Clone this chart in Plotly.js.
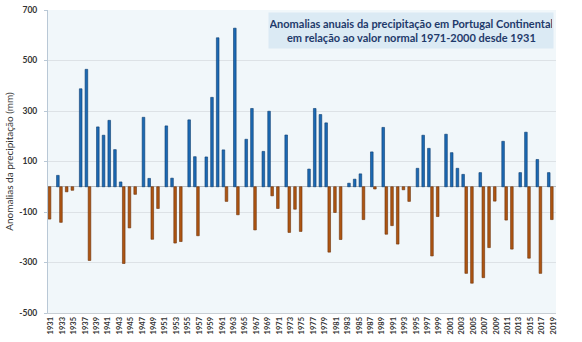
<!DOCTYPE html>
<html>
<head>
<meta charset="utf-8">
<script src="https://cdn.plot.ly/plotly-3.0.1.min.js"></script>
<style>
  html, body { margin: 0; padding: 0; background: #ffffff; }
  #chart { width: 582px; height: 342px; }
</style>
</head>
<body>
<div id="chart"></div>
<script>
// Categories (years)
const years = [
  1931,1932,1933,1934,1935,1936,1937,1938,1939,1940,
  1941,1942,1943,1944,1945,1946,1947,1948,1949,1950,
  1951,1952,1953,1954,1955,1956,1957,1958,1959,1960,
  1961,1962,1963,1964,1965,1966,1967,1968,1969,1970,
  1971,1972,1973,1974,1975,1976,1977,1978,1979,1980,
  1981,1982,1983,1984,1985,1986,1987,1988,1989,1990,
  1991,1992,1993,1994,1995,1996,1997,1998,1999,2000,
  2001,2002,2003,2004,2005,2006,2007,2008,2009,2010,
  2011,2012,2013,2014,2015,2016,2017,2018,2019
];

// Annual precipitation anomalies (mm) relative to 1971-2000 normal
const anomalies = [
  -128,  45, -141, -20, -14, 388, 465, -292, 237, 204,
   263, 147,   19, -304, -163, -30, 275,  33, -208, -86,
   241,  34, -223, -217, 265, 119, -194, 118, 354, 590,
   146, -58,  628, -111, 188, 310, -171, 140, 299, -36,
   -86, 205, -181,  -89, -177,  70, 310, 286, 253, -259,
  -102, -209,  14,   30,  51, -130, 138,  -9, 235, -188,
  -154, -227, -12,  -58,  73, 204, 152, -274, -118, 208,
   135,  73,   49, -343, -382,  56, -360, -241, -57, 180,
  -132, -247,  56,  216, -283, 108, -343,  56, -130
];

// Tick labels (every second year)
const tickYears = [];
for (let i = 0; i < years.length; i += 2) tickYears.push(String(years[i]));

const yTicks = [-500, -300, -100, 100, 300, 500, 700];

const titleLines = [
  "Anomalias anuais da precipitação em Portugal Continental",
  "em relação ao valor normal 1971-2000 desde 1931"
];
const yTitle = "Anomalias da precipitação (mm)";

const cats = years.map(String);
const negVals = anomalies.map(v => v < 0 ? v : null);
const posVals = anomalies.map(v => v >= 0 ? v : null);

const FONT = "Lato, 'Open Sans', sans-serif";

const traces = [
  {
    type: "bar", x: cats, y: negVals, name: "negativas",
    marker: { color: "#ad5512", line: { color: "#6b3109", width: 0.6 } },
    hoverinfo: "x+y"
  },
  {
    type: "bar", x: cats, y: posVals, name: "positivas",
    marker: { color: "#1c69b3", line: { color: "#0c3c6e", width: 0.6 } },
    hoverinfo: "x+y"
  }
];

const layout = {
  width: 582, height: 342,
  margin: { l: 48, r: 26, t: 10, b: 29 },
  paper_bgcolor: "#ffffff",
  plot_bgcolor: "#f1f7fa",
  barmode: "group",
  bargap: 0.08,
  bargroupgap: 0,
  showlegend: false,
  font: { family: FONT, color: "#404040" },
  xaxis: {
    type: "category",
    range: [-0.5, years.length - 0.5],
    tickmode: "array",
    tickvals: tickYears,
    ticktext: tickYears,
    tickangle: -90,
    tickfont: { family: FONT, size: 7.5, color: "#333333", weight: "bold" },
    showgrid: false,
    showline: true,
    linecolor: "#c8ced4",
    linewidth: 1,
    ticks: "",
    zeroline: false,
    fixedrange: true
  },
  yaxis: {
    range: [-500, 700],
    tickmode: "array",
    tickvals: yTicks,
    ticktext: yTicks.map(String),
    tickfont: { family: FONT, size: 8.5, color: "#333333", weight: "bold" },
    ticks: "outside",
    ticklen: 3,
    tickcolor: "#b9c8d6",
    ticklabelstandoff: 5,
    showgrid: true,
    gridcolor: "#dde2e6",
    gridwidth: 1,
    showline: true,
    linecolor: "#b9c8d6",
    linewidth: 1,
    zeroline: true,
    zerolinecolor: "#b4b9be",
    zerolinewidth: 1,
    title: { text: yTitle, font: { family: FONT, size: 10, color: "#333333" }, standoff: 3 },
    fixedrange: true
  },
  annotations: [
    {
      xref: "paper", yref: "paper",
      x: 0.7146, y: 0.932,
      xanchor: "center", yanchor: "middle",
      text: "<b>" + titleLines.join("<br>") + "</b>",
      showarrow: false,
      align: "center",
      font: { family: FONT, size: 11, color: "#1f3a6b" },
      bgcolor: "#dbeaf4",
      width: 282, height: 33
    }
  ]
};

Plotly.newPlot("chart", traces, layout, { displayModeBar: false, staticPlot: true });
</script>
</body>
</html>
